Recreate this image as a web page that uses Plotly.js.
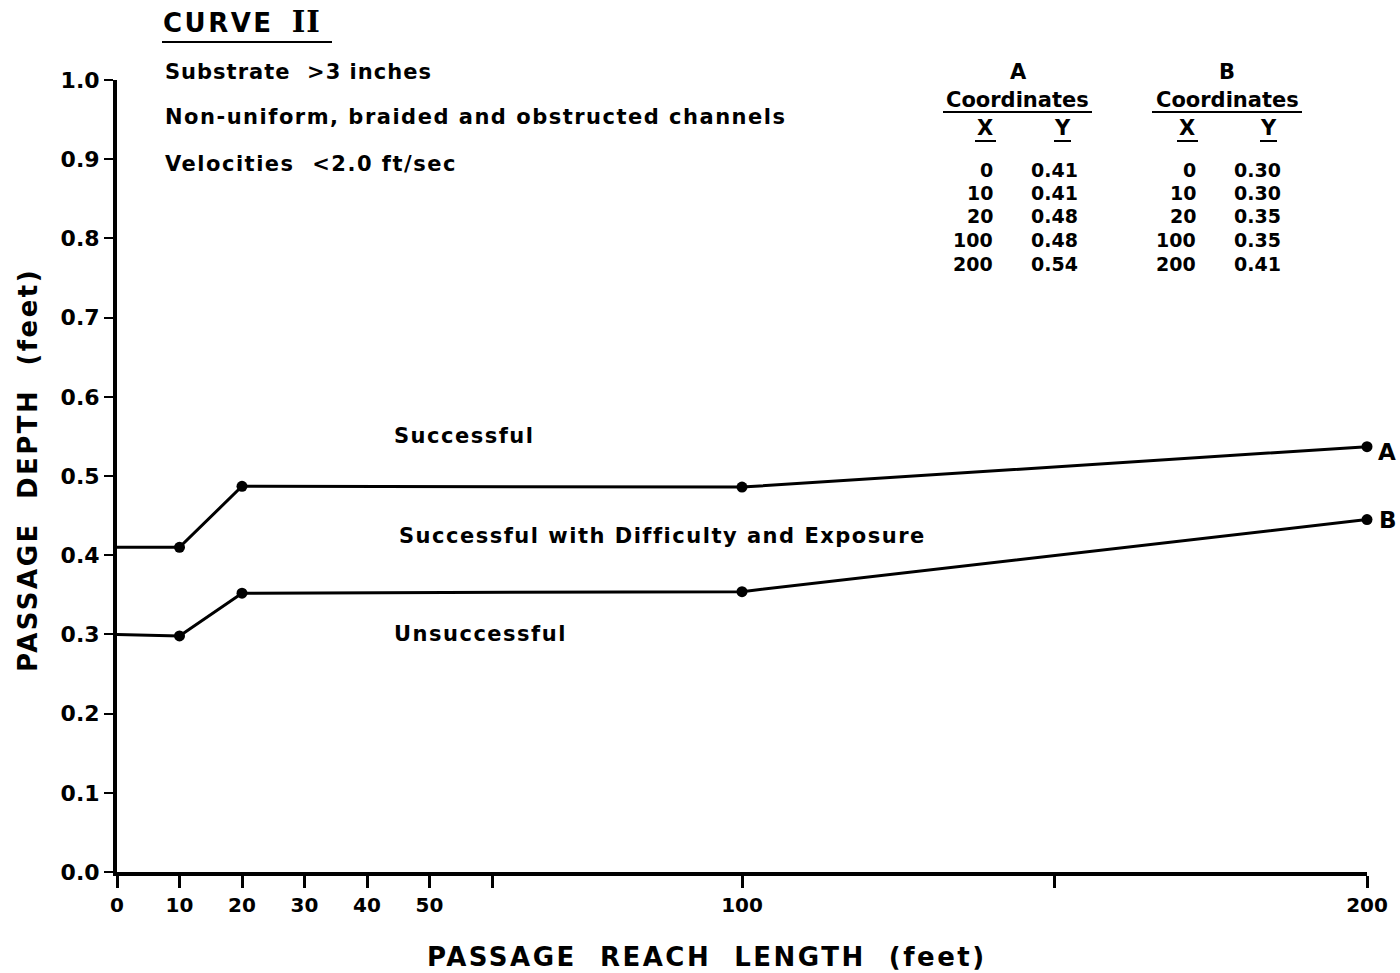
<!DOCTYPE html>
<html>
<head>
<meta charset="utf-8">
<script src="https://cdn.plot.ly/plotly-3.0.1.min.js"></script>
<style>html,body{margin:0;padding:0;background:#fff;}#chart{width:1400px;height:973px;}</style>
</head>
<body>
<div id="chart"></div>
<script>
// Plotted curve values
const curveX = [0, 10, 20, 100, 200];
const curveA = [0.41, 0.41, 0.487, 0.486, 0.537];
const curveB = [0.30, 0.298, 0.352, 0.354, 0.445];
const markerX = [10, 20, 100, 200];
const markerA = [0.41, 0.487, 0.486, 0.537];
const markerB = [0.298, 0.352, 0.354, 0.445];

// Coordinate table as printed
const tableAX = ['0', '10', '20', '100', '200'];
const tableAY = ['0.41', '0.41', '0.48', '0.48', '0.54'];
const tableBX = ['0', '10', '20', '100', '200'];
const tableBY = ['0.30', '0.30', '0.35', '0.35', '0.41'];

// Axis ticks
const xTickVals = [0, 10, 20, 30, 40, 50, 60, 100, 150, 200];
const xTickText = ['0', '10', '20', '30', '40', '50', '', '100', '', '200'];
const yTickVals = [0, 0.1, 0.2, 0.3, 0.4, 0.5, 0.6, 0.7, 0.8, 0.9, 1.0];
const yTickText = ['0.0', '0.1', '0.2', '0.3', '0.4', '0.5', '0.6', '0.7', '0.8', '0.9', '1.0'];

const FONT = 'DejaVu Sans, Verdana, sans-serif';
const NB = '\u00A0';

// pixel -> paper helpers (plot area 117..1367 x 80..872)
const L = 117, R = 1367, T = 80, B = 872;
const px = x => (x - L) / (R - L);
const py = y => (B - y) / (B - T);

const traces = [
  {x: curveX, y: curveA, mode: 'lines', line: {color: '#000', width: 3}, hoverinfo: 'skip', showlegend: false, cliponaxis: false},
  {x: curveX, y: curveB, mode: 'lines', line: {color: '#000', width: 3}, hoverinfo: 'skip', showlegend: false, cliponaxis: false},
  {x: markerX, y: markerA, mode: 'markers', marker: {color: '#000', size: 11}, showlegend: false, cliponaxis: false},
  {x: markerX, y: markerB, mode: 'markers', marker: {color: '#000', size: 11}, showlegend: false, cliponaxis: false}
];

const ann = [];
function sp(text, ls) {
  return '<span style="letter-spacing:' + ls + 'px">' + text + '</span>';
}
function txt(text, x, y, size, anchor, extra) {
  ann.push(Object.assign({
    text: text, xref: 'paper', yref: 'paper', x: px(x), y: py(y),
    xanchor: anchor || 'left', yanchor: 'middle', showarrow: false,
    font: {family: FONT, size: size, color: '#000', weight: 'bold'}
  }, extra || {}));
}

txt(sp('CURVE', 2.5) + NB + NB + '<span style="font-family:DejaVu Serif,serif;font-size:29px;letter-spacing:1px">II</span>', 161, 22, 26, 'left');
txt(sp('Substrate' + NB + NB + '>3 inches', 1), 163, 72, 21, 'left');
txt(sp('Non-uniform, braided and obstructed channels', 1.5), 163, 117, 21, 'left');
txt(sp('Velocities' + NB + NB + '<2.0 ft/sec', 1.5), 163, 164, 21, 'left');

txt('A', 1018, 72, 21, 'center');
txt('Coordinates', 1017, 100, 21, 'center');
txt('X', 985, 128, 21, 'center');
txt('Y', 1062, 128, 21, 'center');
txt('B', 1227, 72, 21, 'center');
txt('Coordinates', 1227, 100, 21, 'center');
txt('X', 1187, 128, 21, 'center');
txt('Y', 1268, 128, 21, 'center');

const rowY = [170, 193, 216, 240, 264];
for (let i = 0; i < rowY.length; i++) {
  txt(tableAX[i], 995, rowY[i], 19, 'right');
  txt(tableAY[i], 1029, rowY[i], 19, 'left');
  txt(tableBX[i], 1198, rowY[i], 19, 'right');
  txt(tableBY[i], 1232, rowY[i], 19, 'left');
}

txt(sp('Successful', 1.5), 464, 436, 21, 'center');
txt(sp('Successful with Difficulty and Exposure', 1.5), 662, 536, 21, 'center');
txt(sp('Unsuccessful', 1.5), 480, 634, 21, 'center');
txt('A', 1376, 452, 23, 'left');
txt('B', 1377, 520, 23, 'left');

txt(sp('PASSAGE' + NB + NB + 'REACH' + NB + NB + 'LENGTH' + NB + NB + '(feet)', 2.5), 707, 957, 26, 'center');
txt(sp('PASSAGE' + NB + NB + 'DEPTH' + NB + NB + '(feet)', 2.5), 28, 470, 26, 'center', {textangle: -90});

// underlines
const shapes = [];
function uline(x0, x1, y) {
  shapes.push({type: 'line', xref: 'paper', yref: 'paper', x0: px(x0), x1: px(x1), y0: py(y), y1: py(y), line: {color: '#000', width: 2}});
}
uline(162, 332, 42);
uline(943, 1092, 112);
uline(1152, 1302, 112);
uline(975, 996, 141);
uline(1054, 1071, 141);
uline(1177, 1198, 141);
uline(1260, 1277, 141);

const layout = {
  width: 1400, height: 973,
  paper_bgcolor: '#fff', plot_bgcolor: '#fff',
  margin: {l: L, r: 1400 - R, t: T, b: 973 - B, pad: 0},
  showlegend: false,
  font: {family: FONT, color: '#000', size: 20, weight: 'bold'},
  xaxis: {
    range: [0, 200], tickvals: xTickVals, ticktext: xTickText,
    showgrid: false, zeroline: false, showline: true, linecolor: '#000', linewidth: 4,
    ticks: 'outside', ticklen: 12, tickwidth: 3, tickcolor: '#000',
    tickfont: {family: FONT, size: 20, color: '#000', weight: 'bold'}, fixedrange: true
  },
  yaxis: {
    range: [0, 1.0], tickvals: yTickVals, ticktext: yTickText,
    showgrid: false, zeroline: false, showline: true, linecolor: '#000', linewidth: 4,
    ticks: 'outside', ticklen: 9, tickwidth: 2, tickcolor: '#000',
    tickfont: {family: FONT, size: 22, color: '#000', weight: 'bold'}, fixedrange: true
  },
  annotations: ann,
  shapes: shapes
};

Plotly.newPlot('chart', traces, layout, {staticPlot: true, displayModeBar: false});
</script>
</body>
</html>
